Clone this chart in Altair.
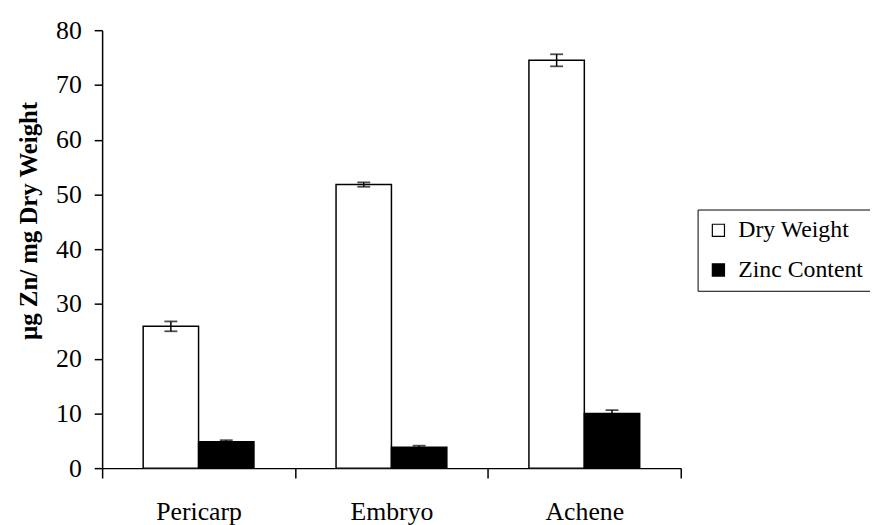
import altair as alt
import pandas as pd

categories = ["Pericarp", "Embryo", "Achene"]
series = ["Dry Weight", "Zinc Content"]
dry_weight = [25.9, 51.8, 74.5]
dry_err = [0.9, 0.4, 1.1]
zinc_content = [4.8, 3.8, 10.0]
zinc_err = [0.3, 0.3, 0.6]
y_ticks = [0, 10, 20, 30, 40, 50, 60, 70, 80]

rows = []
for i, c in enumerate(categories):
    rows.append({"cat": c, "series": series[0], "v": dry_weight[i],
                 "lo": dry_weight[i] - dry_err[i], "hi": dry_weight[i] + dry_err[i]})
    rows.append({"cat": c, "series": series[1], "v": zinc_content[i],
                 "lo": zinc_content[i] - zinc_err[i], "hi": zinc_content[i] + zinc_err[i]})
df = pd.DataFrame(rows)

FONT = "Liberation Serif"
FS = 26

x = alt.X("cat:N", sort=categories,
          scale=alt.Scale(paddingInner=0, paddingOuter=0),
          axis=alt.Axis(title=None, labelAngle=0, tickBand="extent", tickSize=10,
                        labelPadding=21, labelFontSize=FS, labelFont=FONT,
                        labelColor="black", domainColor="black", tickColor="black",
                        domainWidth=1.5, tickWidth=1.5))
xo = alt.XOffset("series:N", sort=series,
                 scale=alt.Scale(paddingOuter=0.741, paddingInner=0))
y_scale = alt.Scale(domain=[0, 80], nice=False)

bars = alt.Chart(df).mark_bar(stroke="black", strokeWidth=1.5).encode(
    x=x, xOffset=xo,
    y=alt.Y("v:Q", scale=y_scale,
            axis=alt.Axis(values=y_ticks, grid=False, title="µg Zn/ mg Dry Weight",
                          titleFont=FONT, titleFontSize=25, titleFontWeight="bold",
                          titleColor="black", titleX=-61, titleY=192,
                          labelFont=FONT, labelFontSize=FS, labelColor="black",
                          tickSize=8, labelPadding=13, domainColor="black",
                          tickColor="black", domainWidth=1.5, tickWidth=1.5)),
    fill=alt.Fill("series:N", sort=series,
                  scale=alt.Scale(domain=series, range=["white", "black"]),
                  legend=alt.Legend(title=None, orient="none", legendX=601, legendY=181,
                                    symbolType="square", symbolSize=150,
                                    symbolStrokeColor="black", symbolStrokeWidth=1.2,
                                    labelFont=FONT, labelFontSize=24, labelColor="black",
                                    labelOffset=8, rowPadding=16, padding=9,
                                    strokeColor="black", fillColor="white")),
)

rules = alt.Chart(df).mark_rule(color="black", strokeWidth=1.5).encode(
    x=x, xOffset=xo, y=alt.Y("lo:Q", scale=y_scale), y2="hi:Q")
caps_hi = alt.Chart(df).mark_tick(color="black", size=13, thickness=1.8).encode(
    x=x, xOffset=xo, y=alt.Y("hi:Q", scale=y_scale))
caps_lo = alt.Chart(df).mark_tick(color="black", size=13, thickness=1.8).encode(
    x=x, xOffset=xo, y=alt.Y("lo:Q", scale=y_scale))

chart = alt.layer(bars, rules, caps_hi, caps_lo).properties(
    width=584, height=442,
    padding={"left": 95, "top": 20, "right": 191, "bottom": 55},
    autosize=alt.AutoSizeParams(type="none"),
).configure(background="white").configure_view(stroke=None)

chart.save("out.html", embed_options={"renderer": "svg", "actions": False})
